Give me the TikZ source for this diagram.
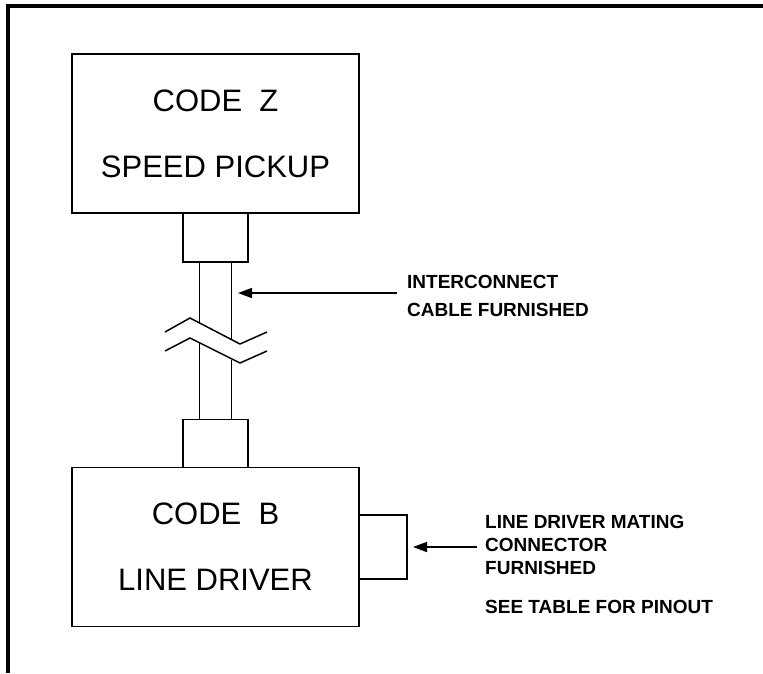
\documentclass[tikz,border=0pt]{standalone}
\usepackage{fontspec}
\setmainfont{Liberation Sans}
\usetikzlibrary{arrows.meta,positioning,calc}

\begin{document}
\begin{tikzpicture}[
  x=1pt, y=-1pt,
  unit/.style={draw, line width=1.8pt, minimum width=287pt, minimum height=159pt, align=center, inner sep=0pt, outer sep=0pt, font=\fontsize{31}{66}\selectfont},
  plug/.style={draw, line width=1.5pt, inner sep=0pt, outer sep=0pt},
  note/.style={align=left, inner ysep=0pt, inner xsep=8pt, font=\fontsize{19}{23}\selectfont\bfseries},
  arr/.style={-{Triangle[length=14pt,width=10pt]}, line width=1.5pt},
  wire/.style={line width=1.5pt},
]
\useasboundingbox (0,0) rectangle (763,673);
% frame
\draw[line width=4pt] (8,673) -- (8,6) -- (763,6);

\node[unit] (pickup) at (215.5,133.5) {CODE~~Z\\SPEED PICKUP};
\node[unit] (driver) at (215.5,547) {CODE~~B\\LINE DRIVER};

\node[plug, minimum width=65pt, minimum height=49pt, anchor=north] (topplug) at (pickup.south) {};
\node[plug, minimum width=65pt, minimum height=48pt, anchor=south] (botplug) at (driver.north) {};
\node[plug, minimum width=48pt, minimum height=64pt, anchor=west] (sideplug) at (driver.east) {};

% cable with break
\draw[wire] ($(topplug.south)+(-16,0)$) -- ++(0,61);
\draw[wire] ($(topplug.south)+(16,0)$) -- ++(0,77);
\draw[wire] ($(botplug.north)+(-16,0)$) -- ++(0,-76.5);
\draw[wire] ($(botplug.north)+(16,0)$) -- ++(0,-60);
\draw[wire] (165,332) -- (190,318) -- (240,344) -- (267,332);
\draw[wire] (165,351) -- (190,338) -- (240,363) -- (267,351);

% notes
\node[note, anchor=west, inner xsep=10pt, font=\fontsize{19}{28}\selectfont\bfseries] (cablenote) at (397,296) {INTERCONNECT\\CABLE FURNISHED};
\node[note, anchor=west] (matenote) at (477,545) {LINE DRIVER MATING\\CONNECTOR\\FURNISHED};
\node[note, anchor=west] (pinnote) at (477,607) {SEE TABLE FOR PINOUT};

\coordinate (cabletip) at (238,293);
\draw[arr] (cablenote.west |- cabletip) -- (cabletip);
\draw[arr] (matenote.west |- sideplug.east) -- ($(sideplug.east)+(6,0)$);
\end{tikzpicture}
\end{document}
